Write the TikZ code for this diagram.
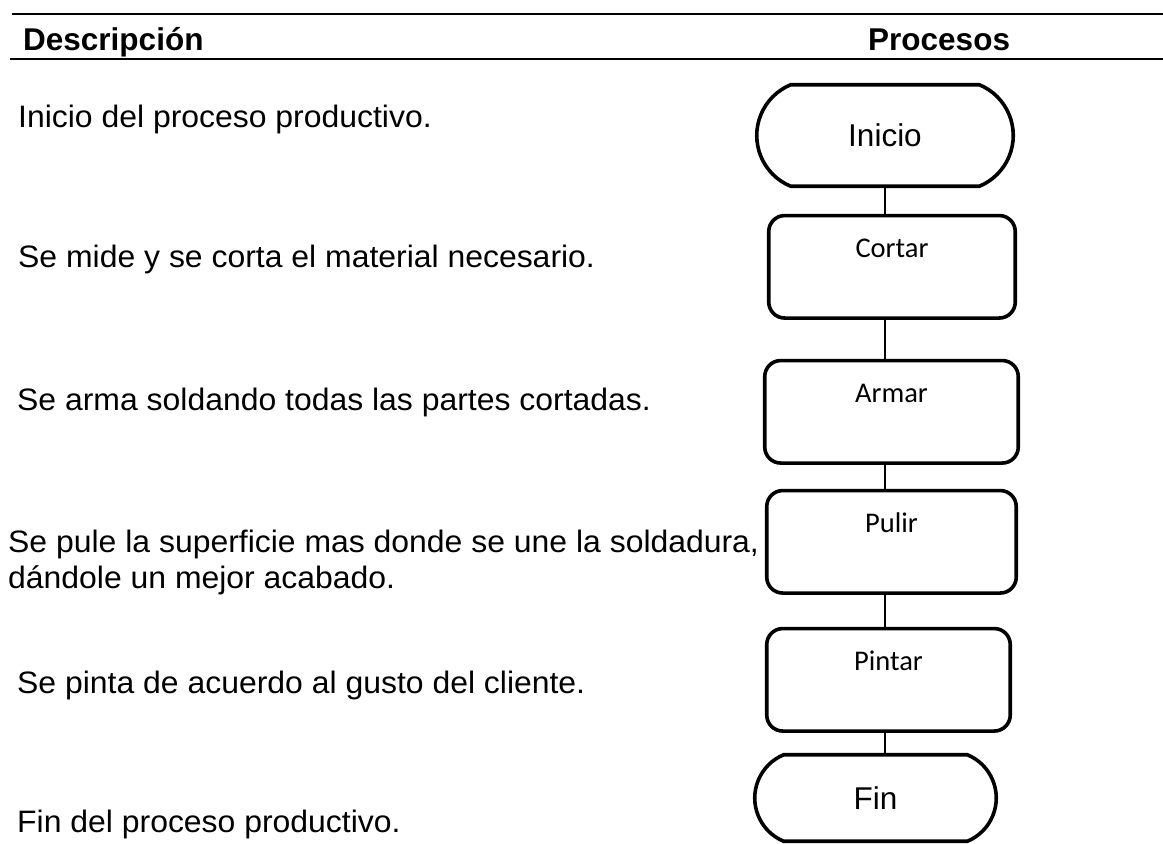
\documentclass[tikz,border=0pt]{standalone}
\usepackage{fontspec}
\setmainfont{Liberation Sans}
\newfontfamily\descfont[FakeStretch=1.03]{Liberation Sans}
\newfontfamily\boxfont{Carlito}
\usetikzlibrary{shapes.misc}

\begin{document}
\begin{tikzpicture}[x=1pt,y=-1pt,
  desc/.style={anchor=base west,inner sep=0pt,align=left,font=\descfont\fontsize{31}{36}\selectfont},
  head/.style={anchor=base west,inner sep=0pt,font=\bfseries\fontsize{31.5}{36}\selectfont},
  termbox/.style={draw,rounded rectangle,rounded rectangle arc length=135,line width=3.6pt,inner sep=0pt,font=\fontsize{31.5}{36}\selectfont},
  procbox/.style={draw,rectangle,rounded corners=16pt,line width=3.6pt,anchor=north,inner xsep=0pt,inner ysep=24pt,text height=18.4pt,text depth=36.1pt,font=\boxfont\fontsize{28.5}{32}\selectfont},
  conn/.style={line width=1.5pt}]
\useasboundingbox (0,0) rectangle (1163,844);
%Rules
\draw[line width=2.5pt] (12,14) -- (1163,14);
\draw[line width=2.5pt] (10,59) -- (1163,59);
%Headers
\node[head] (hdesc) at (23,50) {Descripción};
\node[head] (hproc) at (868,50) {Procesos};
%Boxes
\node[termbox,minimum width=256.5pt,minimum height=101.5pt] (inicio) at (885,135.5) {Inicio};
\node[procbox,minimum width=246.5pt] (cortar) at (892,213.75) {Cortar};
\node[procbox,minimum width=253.5pt] (armar) at (891.5,358.75) {Armar};
\node[procbox,minimum width=249.5pt] (pulir) at (891.5,488.75) {Pulir};
\node[procbox,minimum width=243.5pt] (pintar) at (888.5,626.75) {Pintar};
\node[termbox,minimum width=241.5pt,minimum height=86.5pt] (fin) at (875.5,798) {Fin};
\foreach \a/\b in {inicio/cortar,cortar/armar,armar/pulir,pulir/pintar,pintar/fin}
  \draw[conn] (inicio.south |- \a.south) -- (inicio.south |- \b.north);
%Text
\node[desc] (dinicio) at (18,127) {Inicio del proceso productivo.};
\node[desc] (dcortar) at (18,267) {Se mide y se corta el material necesario.};
\node[desc] (darmar) at (17,410) {Se arma soldando todas las partes cortadas.};
\node[desc] (dpulir) at (8,588) {Se pule la superficie mas donde se une la soldadura,\\dándole un mejor acabado.};
\node[desc] (dpintar) at (17,693) {Se pinta de acuerdo al gusto del cliente.};
\node[desc] (dfin) at (17,832) {Fin del proceso productivo.};
\end{tikzpicture}
\end{document}
